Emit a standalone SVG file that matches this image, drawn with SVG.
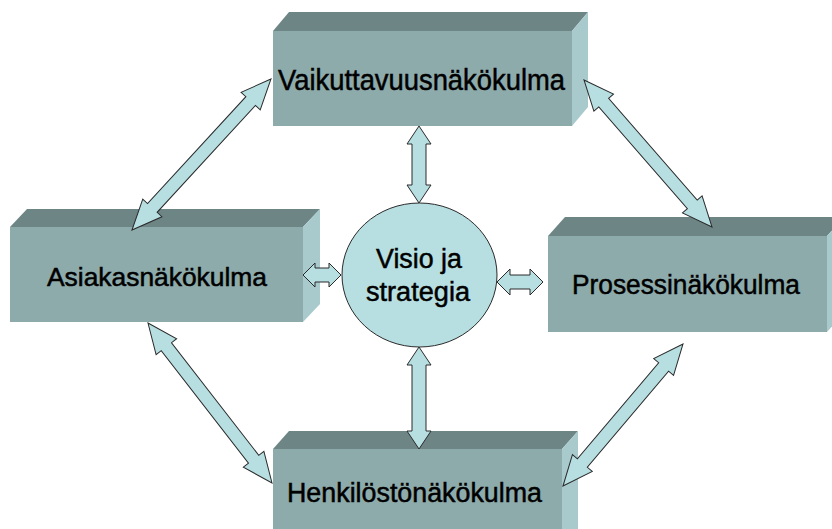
<svg xmlns="http://www.w3.org/2000/svg" width="832" height="529" viewBox="0 0 832 529">
<style>
.front{fill:#8eabac}
.top{fill:#6e8586}
.side{fill:#a8cacd}
.arrow{fill:#b7dfe2;stroke:#2a2a2a;stroke-width:1;stroke-linejoin:miter}
.lbl{font-family:"Liberation Sans",Arial,sans-serif;fill:#000;stroke:#000;stroke-width:0.5}
</style>
<rect width="832" height="529" fill="#fff"/>
<g id="vaikuttavuus">
<polygon class="top" points="273,31 289,12 588,12 572,31"/>
<polygon class="side" points="572,31 588,12 588,107 572,126"/>
<rect class="front" x="273" y="31" width="299" height="95"/>
<text class="lbl" x="278" y="90" font-size="30" textLength="287" lengthAdjust="spacingAndGlyphs">Vaikuttavuusnäkökulma</text>
</g>
<g id="asiakas">
<polygon class="top" points="10,227 27,209 320,209 303,227"/>
<polygon class="side" points="303,227 320,209 320,304 303,322"/>
<rect class="front" x="10" y="227" width="293" height="95"/>
<text class="lbl" x="47" y="286" font-size="25" textLength="220" lengthAdjust="spacingAndGlyphs">Asiakasnäkökulma</text>
</g>
<g id="prosessi">
<polygon class="top" points="548,236 565,217 844,217 827,236"/>
<polygon class="side" points="827,236 844,217 844,313 827,332"/>
<rect class="front" x="548" y="236" width="279" height="96"/>
<text class="lbl" x="572" y="294" font-size="27" textLength="228" lengthAdjust="spacingAndGlyphs">Prosessinäkökulma</text>
</g>
<g id="henkilosto">
<polygon class="top" points="273,449 289,431 578,431 562,449"/>
<polygon class="side" points="562,449 578,431 578,529 562,529"/>
<rect class="front" x="273" y="449" width="289" height="80"/>
<text class="lbl" x="287" y="502" font-size="27" textLength="255" lengthAdjust="spacingAndGlyphs">Henkilöstönäkökulma</text>
</g>
<g id="visio">
<ellipse cx="419.5" cy="275" rx="77.5" ry="72" fill="#b7dfe2" stroke="#2a2a2a" stroke-width="1"/>
<text class="lbl" x="376" y="268" font-size="27" textLength="86" lengthAdjust="spacingAndGlyphs">Visio ja</text>
<text class="lbl" x="366" y="301" font-size="27" textLength="104" lengthAdjust="spacingAndGlyphs">strategia</text>
</g>
<g id="connectors">
<polygon class="arrow" transform="translate(132,230) rotate(-47.37)" points="0,0 30,-13 30,-6.5 175.2,-6.5 175.2,-13 205.2,0 175.2,13 175.2,6.5 30,6.5 30,13"/>
<polygon class="arrow" transform="translate(584,80) rotate(48.95)" points="0,0 30,-13 30,-6.5 164.9,-6.5 164.9,-13 194.9,0 164.9,13 164.9,6.5 30,6.5 30,13"/>
<polygon class="arrow" transform="translate(148,323) rotate(52.22)" points="0,0 30,-13 30,-6.5 172.4,-6.5 172.4,-13 202.4,0 172.4,13 172.4,6.5 30,6.5 30,13"/>
<polygon class="arrow" transform="translate(563,486) rotate(-49.8)" points="0,0 30,-13 30,-6.5 155.9,-6.5 155.9,-13 185.9,0 155.9,13 155.9,6.5 30,6.5 30,13"/>
<polygon class="arrow" transform="translate(419,126) rotate(90)" points="0,0 18,-12 18,-7 59,-7 59,-12 77,0 59,12 59,7 18,7 18,12"/>
<polygon class="arrow" transform="translate(419,347) rotate(90)" points="0,0 18,-12 18,-7 84,-7 84,-12 102,0 84,12 84,7 18,7 18,12"/>
<polygon class="arrow" transform="translate(303,275)" points="0,0 12,-12 12,-7 26,-7 26,-12 38,0 26,12 26,7 12,7 12,12"/>
<polygon class="arrow" transform="translate(497,282)" points="0,0 13,-13 13,-7 33,-7 33,-13 46,0 33,13 33,7 13,7 13,13"/>
</g>
</svg>
